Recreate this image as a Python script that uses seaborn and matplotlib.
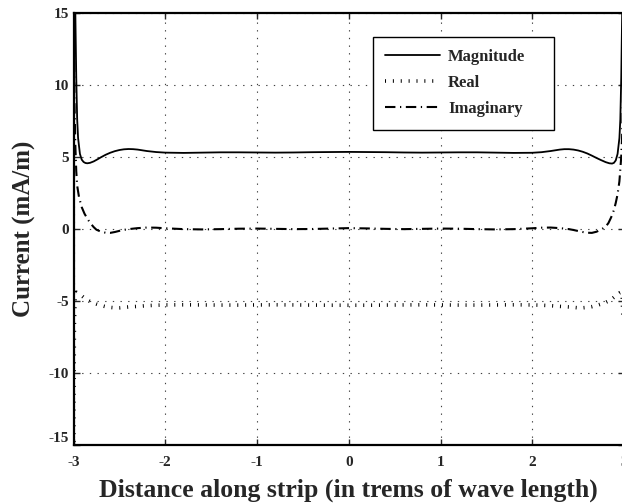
import matplotlib
matplotlib.use("Agg")
import matplotlib.pyplot as plt
import seaborn as sns
import numpy as np

# ---------------- data ----------------
x_mag = [-3.0, -2.99, -2.98, -2.97, -2.96, -2.95, -2.93, -2.91, -2.89, -2.87, -2.85, -2.82,
         -2.78, -2.74, -2.70, -2.65, -2.60, -2.55, -2.50, -2.45, -2.40, -2.35, -2.30, -2.25,
         -2.20, -2.10, -2.00, -1.80, -1.60, -1.40, -1.20, -1.00, -0.80, -0.60, -0.40, -0.20,
         0.0, 0.20, 0.40, 0.60, 0.80, 1.00, 1.20, 1.40, 1.60, 1.80, 2.00, 2.10, 2.20, 2.25,
         2.30, 2.35, 2.40, 2.45, 2.50, 2.55, 2.60, 2.65, 2.70, 2.75, 2.80, 2.84, 2.87, 2.89,
         2.91, 2.93, 2.95, 2.96, 2.97, 2.98, 2.99, 3.0]
magnitude = [40, 22, 15, 10.5, 7.6, 6.3, 5.2, 4.8, 4.64, 4.57, 4.55, 4.58,
             4.68, 4.82, 4.97, 5.14, 5.28, 5.39, 5.47, 5.52, 5.54, 5.53, 5.50, 5.45,
             5.40, 5.33, 5.29, 5.27, 5.29, 5.31, 5.31, 5.30, 5.29, 5.30, 5.32, 5.33,
             5.34, 5.33, 5.32, 5.30, 5.29, 5.30, 5.31, 5.31, 5.29, 5.27, 5.28, 5.32, 5.40, 5.45,
             5.50, 5.53, 5.53, 5.50, 5.44, 5.35, 5.23, 5.08, 4.92, 4.77, 4.63, 4.55, 4.53, 4.58,
             4.75, 5.2, 6.3, 7.6, 10.5, 15, 22, 40]

x_real = [-3.0, -2.995, -2.99, -2.98, -2.97, -2.95, -2.92, -2.88, -2.84, -2.80, -2.75, -2.70,
          -2.65, -2.60, -2.55, -2.50, -2.45, -2.40, -2.30, -2.20, -2.10, -2.00, -1.80, -1.60,
          -1.40, -1.20, -1.00, -0.80, -0.60, -0.40, -0.20, 0.0, 0.20, 0.40, 0.60, 0.80, 1.00,
          1.20, 1.40, 1.60, 1.80, 2.00, 2.10, 2.20, 2.30, 2.40, 2.45, 2.50, 2.55, 2.60, 2.65,
          2.70, 2.75, 2.80, 2.84, 2.88, 2.92, 2.95, 2.97, 2.98, 2.99, 2.995, 3.0]
real = [-40, -12, -6.5, -4.6, -4.4, -4.45, -4.6, -4.8, -4.98, -5.1, -5.22, -5.32,
        -5.40, -5.45, -5.48, -5.48, -5.45, -5.42, -5.38, -5.33, -5.30, -5.28, -5.27, -5.28,
        -5.29, -5.29, -5.28, -5.27, -5.28, -5.29, -5.30, -5.30, -5.30, -5.29, -5.28, -5.27, -5.28,
        -5.29, -5.29, -5.28, -5.27, -5.28, -5.30, -5.33, -5.38, -5.42, -5.45, -5.48, -5.48, -5.45, -5.40,
        -5.32, -5.22, -5.10, -4.98, -4.8, -4.6, -4.45, -4.4, -4.6, -6.5, -12, -40]

x_imag = [-3.0, -2.995, -2.99, -2.98, -2.97, -2.96, -2.94, -2.91, -2.88, -2.85, -2.82, -2.78,
          -2.75, -2.70, -2.65, -2.60, -2.55, -2.50, -2.45, -2.40, -2.30, -2.20, -2.10, -2.00,
          -1.80, -1.60, -1.40, -1.20, -1.00, -0.80, -0.60, -0.40, -0.20, 0.0, 0.20, 0.40, 0.60,
          0.80, 1.00, 1.20, 1.40, 1.60, 1.80, 2.00, 2.10, 2.20, 2.30, 2.40, 2.45, 2.50, 2.55,
          2.60, 2.65, 2.70, 2.75, 2.80, 2.83, 2.86, 2.89, 2.91, 2.93, 2.95, 2.97, 2.98, 2.99,
          2.995, 3.0]
imaginary = [40, 15, 9, 5.8, 4.0, 3.0, 2.2, 1.5, 1.05, 0.72, 0.42, 0.12,
             -0.06, -0.20, -0.27, -0.28, -0.22, -0.14, -0.07, -0.02, 0.05, 0.09, 0.08, 0.04,
             -0.02, -0.04, -0.02, 0.01, 0.02, 0.0, -0.02, -0.01, 0.02, 0.05, 0.03, 0.0, -0.02,
             0.0, 0.02, 0.01, -0.02, -0.04, -0.02, 0.04, 0.08, 0.09, 0.05, -0.02, -0.08, -0.15, -0.22,
             -0.27, -0.28, -0.20, -0.05, 0.15, 0.40, 0.80, 1.30, 1.80, 2.40, 3.30, 5.0, 6.5, 9.5,
             15, 40]

legend_labels = ["Magnitude", "Real", "Imaginary"]
x_ticks = [-3, -2, -1, 0, 1, 2, 3]
y_ticks = [-15, -10, -5, 0, 5, 10, 15]
x_label = "Distance along strip (in trems of wave length)"
y_label = "Current (mA/m)"

# ---------------- style ----------------
sns.set_style("ticks")
plt.rcParams["font.family"] = ["Liberation Serif", "DejaVu Serif"]
plt.rcParams["font.weight"] = "bold"
plt.rcParams["axes.labelweight"] = "bold"

fig = plt.figure(figsize=(6.22, 5.04), dpi=100)
ax = fig.add_axes([73.5 / 622, 59 / 504, 550.5 / 622, 432.3 / 504])

sns.lineplot(x=x_mag, y=magnitude, ax=ax, color="black", linewidth=1.3,
             estimator=None, sort=False, label=legend_labels[0])
sns.lineplot(x=x_real, y=real, ax=ax, color="black", linewidth=2.6,
             estimator=None, sort=False, label=legend_labels[1],
             linestyle=(0, (0.28, 1.9)), dash_capstyle="butt")
sns.lineplot(x=x_imag, y=imaginary, ax=ax, color="black", linewidth=1.5,
             estimator=None, sort=False, label=legend_labels[2],
             linestyle=(0, (5.0, 2.2, 0.6, 2.2)), dash_capstyle="butt")

ax.set_xlim(-3, 3)
ax.set_ylim(-15, 15)
ax.set_xticks(x_ticks)
ax.set_yticks(y_ticks)
ax.set_xticklabels([str(t) for t in x_ticks], fontsize=11, fontweight="bold")
ylabels = ax.set_yticklabels([str(t) for t in y_ticks], fontsize=11, fontweight="bold")
ylabels[0].set_verticalalignment("bottom")
ax.tick_params(direction="in", length=4, width=1, top=True, right=True, pad=3)
ax.tick_params(axis="x", pad=8)
ax.grid(True, color="0.25", linestyle=(0, (1.2, 5.7)), linewidth=0.8)
for s in ax.spines.values():
    s.set_visible(True)
    s.set_linewidth(1.6)
    s.set_color("black")

ax.set_xlabel(x_label, fontsize=18.5, fontweight="bold", labelpad=7)
ax.set_ylabel(y_label, fontsize=18, fontweight="bold", labelpad=9)

leg = ax.legend(loc="upper left", bbox_to_anchor=(0.544, 0.9445, 0.329, 0.0),
                mode="expand", fontsize=12, handlelength=3.3, handletextpad=0.45,
                borderpad=0.75, labelspacing=0.6, frameon=True, fancybox=False,
                framealpha=1.0, edgecolor="black", borderaxespad=0)
leg.get_frame().set_linewidth(1.0)
for t in leg.get_texts():
    t.set_fontweight("bold")

fig.savefig("out.png", dpi=100)
